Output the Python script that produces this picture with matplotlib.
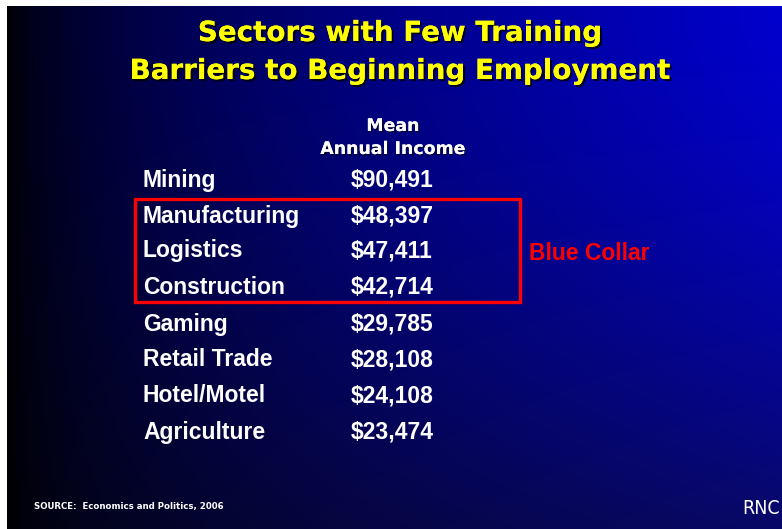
import numpy as np
import matplotlib.pyplot as plt
import matplotlib.patheffects as pe
from matplotlib.patches import Rectangle

W, H = 782, 529

title_lines = ["Sectors with Few Training", "Barriers to Beginning Employment"]
header_lines = ["Mean", "Annual Income"]
sectors = ["Mining", "Manufacturing", "Logistics", "Construction",
           "Gaming", "Retail Trade", "Hotel/Motel", "Agriculture"]
income = [90491, 48397, 47411, 42714, 29785, 28108, 24108, 23474]
source = "SOURCE:  Economics and Politics, 2006"

fig = plt.figure(figsize=(W / 100, H / 100), dpi=100)
fig.patch.set_facecolor('white')
ax = fig.add_axes([0, 0, 1, 1])
ax.set_xlim(0, W)
ax.set_ylim(H, 0)
ax.axis('off')

# background gradient: black on the left, blue top right, darker at bottom
x0, y0 = 7, 6
gx = np.linspace(0, 1, W - x0)[None, :]
gy = np.linspace(0, 1, H - y0)[:, None]
b = 205 * gx ** 0.6 * (1 - 0.62 * gy ** 1.4)
base = 8 * gx ** 0.5 * gy
img = np.zeros((H - y0, W - x0, 3))
img[..., 0] = base / 255
img[..., 1] = base / 255
img[..., 2] = np.clip(b + 25 * gx ** 0.5 * gy, 0, 255) / 255
ax.imshow(img, extent=(x0, W, H, y0), aspect='auto', zorder=0)

shadow = [pe.withSimplePatchShadow(offset=(1.5, -1.5), shadow_rgbFace='black', alpha=0.8), pe.Normal()]
for i, line in enumerate(title_lines):
    ax.text(400, 33 + 38 * i, line, color='#ffff00', fontsize=20, fontweight='bold',
            family='DejaVu Sans', ha='center', va='center', path_effects=shadow)

for i, line in enumerate(header_lines):
    ax.text(393, 126 + 23 * i, line, color='white', fontsize=12.5, fontweight='bold',
            family='DejaVu Sans', ha='center', va='center',
            path_effects=[pe.withSimplePatchShadow(offset=(1, -1), shadow_rgbFace='black', alpha=0.6), pe.Normal()])

row_y = [178, 214, 249, 285, 322, 358, 394, 430]
for s, v, y in zip(sectors, income, row_y):
    ax.text(143, y + 8.5, s, color='white', fontsize=16.5, fontweight='bold',
            family='Liberation Sans', ha='left', va='baseline')
    ax.text(351, y + 8.5, f"${v:,}", color='white', fontsize=16.5, fontweight='bold',
            family='Liberation Sans', ha='left', va='baseline')

ax.add_patch(Rectangle((135, 199), 385, 103, fill=False, edgecolor='#ff0000', linewidth=2.4, zorder=3))
ax.text(529, 252 + 8.5, "Blue Collar", color='#ff0000', fontsize=16.5, fontweight='bold',
        family='Liberation Sans', ha='left', va='baseline')

ax.text(34, 507, source, color='white', fontsize=6.2, fontweight='bold',
        family='DejaVu Sans', ha='left', va='center')
ax.text(780, 508, "RNC", color='white', fontsize=14, family='DejaVu Sans',
        fontstretch='condensed', ha='right', va='center')

fig.savefig('out.png', dpi=100)
